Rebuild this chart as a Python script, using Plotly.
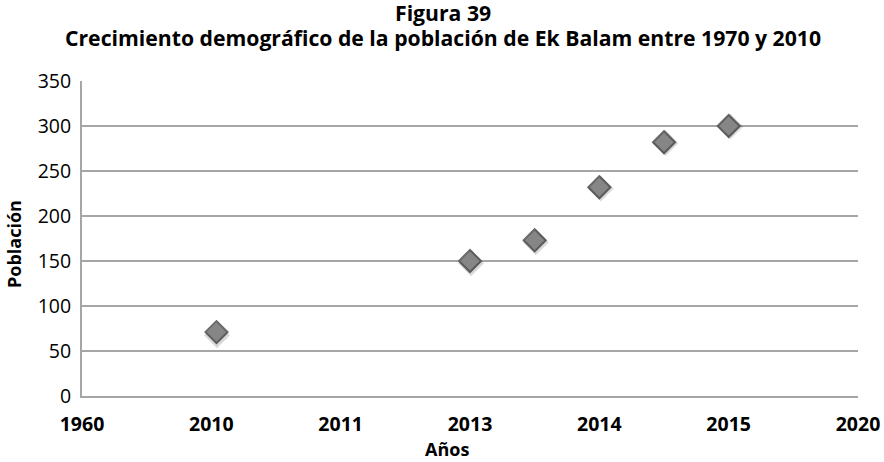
import plotly.graph_objects as go

# Data
years = [1970.4, 1990, 1995, 2000, 2005, 2010]
population = [71, 150, 173, 232, 282, 300]
x_tick_vals = [1960, 1970, 1980, 1990, 2000, 2010, 2020]
x_tick_text = ["1960", "2010", "2011", "2013", "2014", "2015", "2020"]
y_tick_vals = [0, 50, 100, 150, 200, 250, 300, 350]

title_lines = ["Figura 39",
               "Crecimiento demográfico de la población de Ek Balam entre 1970 y 2010"]

W, H = 884, 462
ml, mr, mt = 82, 26, 81
mb = H - 396
pw = W - ml - mr
ph = H - mt - mb
dx, dy = 2 / pw, 4 / ph
x0, x1 = 1960, 2020
y0, y1 = 0, 350


def py(ypx):
    """pixel row in the window -> paper y fraction"""
    return (H - mb - ypx) / ph


def px(xpx):
    """pixel column in the window -> paper x fraction"""
    return (xpx - ml) / pw


fig = go.Figure()

# soft shadow (same data, on axes shifted a few pixels right/down)
fig.add_trace(go.Scatter(
    x=years, y=population, mode="markers", xaxis="x2", yaxis="y2",
    marker=dict(symbol="diamond", size=20, color="rgba(0,0,0,0.15)",
                line=dict(width=0)),
    hoverinfo="skip", showlegend=False, cliponaxis=False,
))
fig.add_trace(go.Scatter(
    x=years, y=population, mode="markers",
    marker=dict(symbol="diamond", size=17, color="#9e9e9e",
                line=dict(color="#6b6b6b", width=2)),
    showlegend=False, cliponaxis=False,
))

axis_common = dict(showline=True, linecolor="#a6a6a6", linewidth=2,
                   ticks="", zeroline=False, automargin=False)

bold = dict(family="Open Sans", color="black", weight="bold")

fig.update_layout(
    width=W, height=H,
    margin=dict(l=ml, r=mr, t=mt, b=mb),
    paper_bgcolor="white", plot_bgcolor="white",
    xaxis=dict(range=[x0, x1], tickvals=x_tick_vals, ticktext=x_tick_text,
               showgrid=False, ticklabelstandoff=10,
               tickfont=dict(size=19.5, **bold),
               **axis_common),
    yaxis=dict(range=[y0, y1], tickvals=y_tick_vals, showgrid=True,
               gridcolor="#a6a6a6", gridwidth=2,
               tickfont=dict(family="Open Sans", size=19.5, color="black"),
               ticklabelstandoff=5,
               **axis_common),
    xaxis2=dict(range=[x0, x0 + (x1 - x0) * (1 - dx)], domain=[dx, 1], overlaying="x",
                visible=False, anchor="y2"),
    yaxis2=dict(range=[y0 + (y1 - y0) * dy, y1], domain=[0, 1 - dy], overlaying="y",
                visible=False, anchor="x2"),
    annotations=[
        dict(text=title_lines[0], xref="paper", yref="paper", x=px(W / 2 + 1),
             y=py(12.5), xanchor="center", yanchor="middle", showarrow=False,
             font=dict(size=21.2, **bold)),
        dict(text=title_lines[1], xref="paper", yref="paper", x=px(W / 2 + 1),
             y=py(37), xanchor="center", yanchor="middle", showarrow=False,
             font=dict(size=21.2, **bold)),
        dict(text="Años", xref="paper", yref="paper", x=px(447),
             y=py(448.5), xanchor="center", yanchor="middle", showarrow=False,
             font=dict(size=18, **bold)),
        dict(text="Población", xref="paper", yref="paper", x=px(14),
             y=py(244), xanchor="center", yanchor="middle", showarrow=False,
             textangle=-90, font=dict(size=18, **bold)),
    ],
)

fig.write_html(
    "out.html",
    config={"displayModeBar": False},
    post_script="document.body.style.margin='0';document.body.style.padding='0';",
)
